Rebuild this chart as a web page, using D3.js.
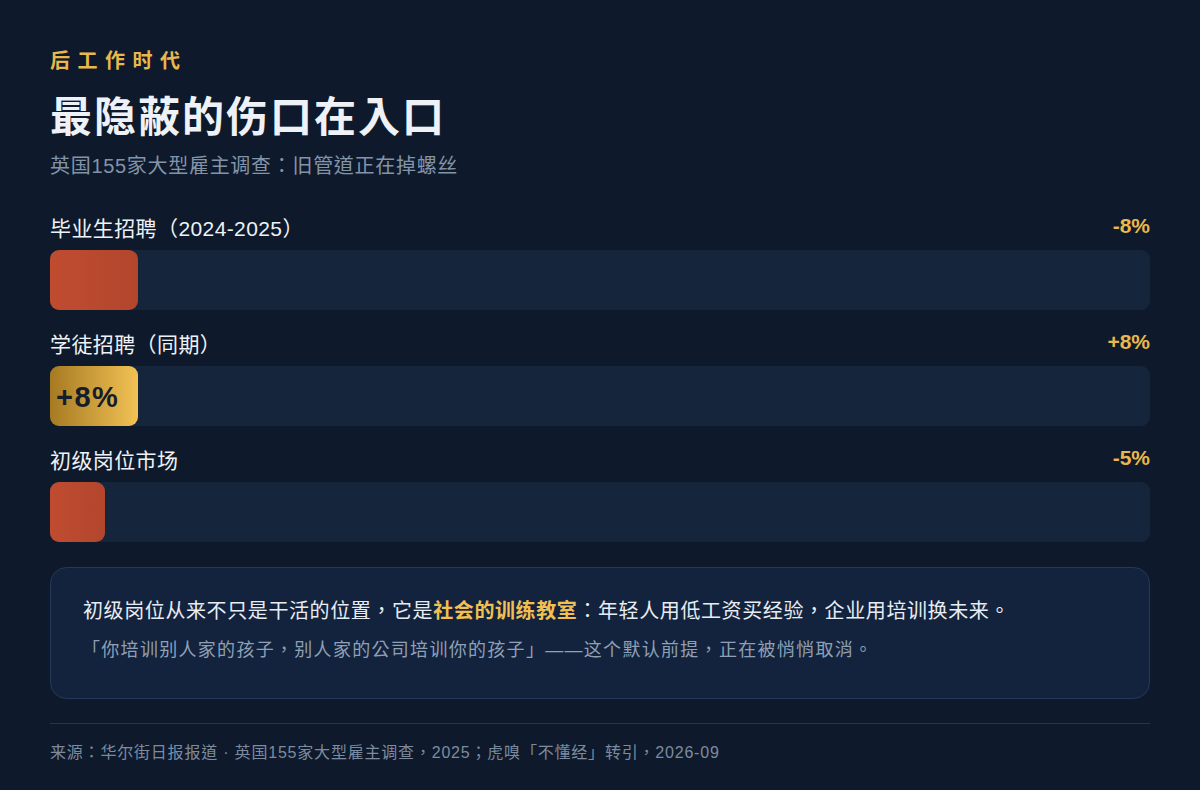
<!DOCTYPE html>
<meta charset="utf-8">
<html>
<style>
  body { margin: 0; background: #0e1a2b; }
  svg text { font-family: "Liberation Sans", "Noto Sans CJK TC", sans-serif; }
</style>
<script type="text/javascript" src="https://cdn.jsdelivr.net/npm/d3@7/dist/d3.min.js"></script>
<body>
  <svg class="chart"></svg>
</body>
<script>
  var width = 1200;
  var height = 790;

  // data
  var categories = ["毕业生招聘（2024-2025）", "学徒招聘（同期）", "初级岗位市场"];
  var values = [-8, 8, -5];
  var valueLabels = ["-8%", "+8%", "-5%"];

  var kicker = "后工作时代";
  var title = "最隐蔽的伤口在入口";
  var subtitle = "英国155家大型雇主调查：旧管道正在掉螺丝";
  var noteLine1 = ["初级岗位从来不只是干活的位置，它是", "社会的训练教室", "：年轻人用低工资买经验，企业用培训换未来。"];
  var noteLine2 = "「你培训别人家的孩子，别人家的公司培训你的孩子」——这个默认前提，正在被悄悄取消。";
  var source = "来源：华尔街日报报道 · 英国155家大型雇主调查，2025；虎嗅「不懂经」转引，2026-09";

  var left = 50, right = 1150;

  var svg = d3.select(".chart")
    .attr("width", width)
    .attr("height", height);

  var defs = svg.append("defs");
  var gRed = defs.append("linearGradient").attr("id", "gRed");
  gRed.append("stop").attr("offset", "0%").attr("stop-color", "#c04c30");
  gRed.append("stop").attr("offset", "100%").attr("stop-color", "#b2462d");
  var gGold = defs.append("linearGradient").attr("id", "gGold");
  gGold.append("stop").attr("offset", "0%").attr("stop-color", "#a67a22");
  gGold.append("stop").attr("offset", "100%").attr("stop-color", "#f2c255");

  svg.append("rect").attr("width", width).attr("height", height).attr("fill", "#0e1a2b");

  // header
  svg.append("text").attr("x", left).attr("y", 68)
    .attr("fill", "#e9b84c").attr("font-size", 20).attr("font-weight", "bold")
    .attr("letter-spacing", 7.5).text(kicker);
  svg.append("text").attr("x", left).attr("y", 132)
    .attr("fill", "#eef2f7").attr("font-size", 42).attr("font-weight", "bold")
    .attr("letter-spacing", 2).text(title);
  svg.append("text").attr("x", left).attr("y", 173)
    .attr("fill", "#8494a8").attr("font-size", 20)
    .attr("letter-spacing", 0.7).text(subtitle);

  // bars
  var x = d3.scaleLinear().domain([0, 100]).range([0, right - left]);
  var y = d3.scalePoint().domain(d3.range(categories.length)).range([250, 482]);
  var barH = 60;

  var row = svg.selectAll("g.row")
    .data(categories)
    .enter().append("g")
    .attr("class", "row")
    .attr("transform", function(d, i) { return "translate(0," + y(i) + ")"; });

  row.append("text")
    .attr("x", left).attr("y", -14)
    .attr("fill", "#eef2f7").attr("font-size", 21)
    .attr("letter-spacing", 0.4)
    .text(function(d) { return d; });

  row.append("text")
    .attr("x", right).attr("y", -17)
    .attr("text-anchor", "end")
    .attr("fill", "#e9b84c").attr("font-size", 21).attr("font-weight", "bold")
    .text(function(d, i) { return valueLabels[i]; });

  row.append("rect")
    .attr("x", left).attr("y", 0)
    .attr("width", x(100)).attr("height", barH)
    .attr("rx", 9)
    .attr("fill", "#15253c");

  row.append("rect")
    .attr("x", left).attr("y", 0)
    .attr("width", function(d, i) { return x(Math.abs(values[i])); })
    .attr("height", barH)
    .attr("rx", 9)
    .attr("fill", function(d, i) { return values[i] > 0 ? "url(#gGold)" : "url(#gRed)"; });

  row.filter(function(d, i) { return values[i] > 0; })
    .append("text")
    .attr("x", left + 6).attr("y", barH / 2 + 11)
    .attr("fill", "#161d2a").attr("font-size", 29).attr("font-weight", "bold")
    .attr("letter-spacing", 1.5)
    .text(function(d) { return valueLabels[categories.indexOf(d)]; });

  // note box
  svg.append("rect")
    .attr("x", left + 0.5).attr("y", 567.5)
    .attr("width", right - left - 1).attr("height", 131)
    .attr("rx", 16)
    .attr("fill", "#13233d").attr("stroke", "#27395a").attr("stroke-width", 1);

  var t1 = svg.append("text").attr("x", 83).attr("y", 618)
    .attr("font-size", 20).attr("letter-spacing", 0.6);
  t1.selectAll("tspan").data(noteLine1).enter().append("tspan")
    .attr("fill", function(d, i) { return i === 1 ? "#f0c050" : "#e8edf4"; })
    .attr("font-weight", function(d, i) { return i === 1 ? "bold" : "normal"; })
    .text(function(d) { return d; });

  svg.append("text").attr("x", 82).attr("y", 656)
    .attr("fill", "#8fa0b6").attr("font-size", 18)
    .attr("letter-spacing", 1.3).text(noteLine2);

  // footer
  svg.append("line").attr("x1", left).attr("x2", right)
    .attr("y1", 723.5).attr("y2", 723.5)
    .attr("stroke", "#26354b").attr("stroke-width", 1);
  svg.append("text").attr("x", left).attr("y", 758)
    .attr("fill", "#7d8ba0").attr("font-size", 16)
    .attr("letter-spacing", 0.8).text(source);
</script>
</html>
